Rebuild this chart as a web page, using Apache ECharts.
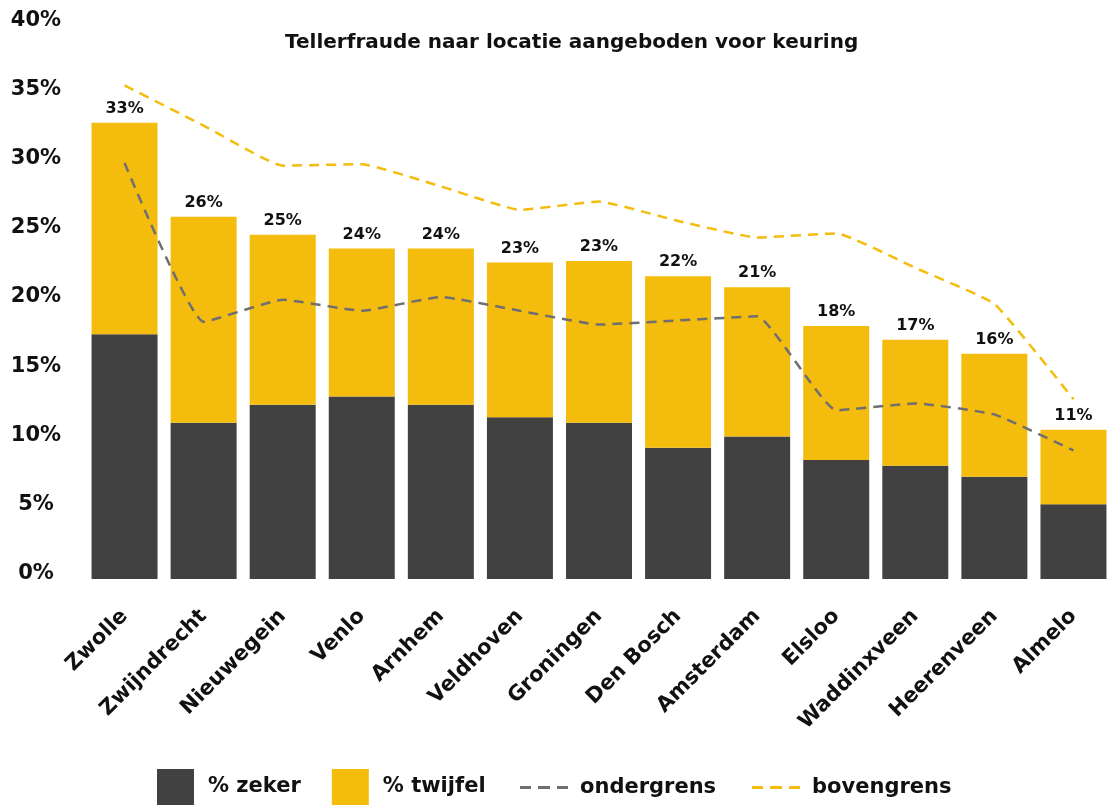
<!DOCTYPE html>
<html>
<head>
<meta charset="utf-8">
<script src="https://cdn.jsdelivr.net/npm/echarts@6/dist/echarts.min.js"></script>
<style>
  html, body { margin: 0; padding: 0; background: #ffffff; }
  #chart { width: 1113px; height: 805px; }
</style>
</head>
<body>
<div id="chart"></div>
<script>
// Locations, in descending order of total share
const locaties = ['Zwolle', 'Zwijndrecht', 'Nieuwegein', 'Venlo', 'Arnhem', 'Veldhoven',
  'Groningen', 'Den Bosch', 'Amsterdam', 'Elsloo', 'Waddinxveen', 'Heerenveen', 'Almelo'];

// Share with certain meter fraud (%)
const zeker = [17.7, 11.3, 12.6, 13.2, 12.6, 11.7, 11.3, 9.5, 10.3, 8.6, 8.2, 7.4, 5.4];

// Share with doubtful cases (%), stacked on top of zeker
const twijfel = [15.3, 14.9, 12.3, 10.7, 11.3, 11.2, 11.7, 12.4, 10.8, 9.7, 9.1, 8.9, 5.4];

// Lower and upper bound estimates (%)
const ondergrens = [30.1, 18.6, 20.2, 19.4, 20.4, 19.4, 18.4, 18.7, 19.0, 12.2, 12.7, 11.9, 9.3];
const bovengrens = [35.7, 32.8, 29.9, 30.0, 28.4, 26.7, 27.3, 25.9, 24.7, 25.0, 22.5, 19.9, 13.0];

// Y axis ticks
const yTicks = [0, 5, 10, 15, 20, 25, 30, 35, 40];

const DARK = '#414142';
const YELLOW = '#F4BC0D';
const GREY = '#6F6F71';
const FONT = 'DejaVu Sans';

// Three short dashes, used as legend icon for the bound lines
const DASH_ICON = 'path://M0,0h11v3h-11zM18,0h12v3h-12zM37,0h11v3h-11z';

const legendText = { fontFamily: FONT, fontWeight: 'bold', fontSize: 21, color: '#111111' };

const chart = echarts.init(document.getElementById('chart'), null, { renderer: 'canvas' });

chart.setOption({
  backgroundColor: '#ffffff',
  animation: false,
  textStyle: { fontFamily: FONT },
  title: {
    text: 'Tellerfraude naar locatie aangeboden voor keuring',
    left: 280,
    top: 28,
    textStyle: { fontFamily: FONT, fontWeight: 'bold', fontSize: 20, color: '#111111' }
  },
  legend: [
    {
      left: 157,
      top: 769,
      padding: 0,
      itemWidth: 37,
      itemHeight: 36,
      itemGap: 31,
      textStyle: Object.assign({ padding: [0, 0, 0, 9] }, legendText),
      data: [
        { name: '% zeker', icon: 'rect' },
        { name: '% twijfel', icon: 'rect' }
      ]
    },
    {
      left: 520,
      top: 777,
      padding: 0,
      itemWidth: 48,
      itemHeight: 3,
      itemGap: 36,
      textStyle: Object.assign({ padding: [0, 0, 0, 7] }, legendText),
      data: [
        { name: 'ondergrens', icon: DASH_ICON, itemStyle: { color: GREY } },
        { name: 'bovengrens', icon: DASH_ICON, itemStyle: { color: YELLOW } }
      ]
    }
  ],
  grid: { left: 85, right: -3, top: 26, bottom: 226, containLabel: false },
  xAxis: {
    type: 'category',
    data: locaties,
    axisLine: { show: false },
    axisTick: { show: false },
    axisLabel: {
      rotate: 45,
      margin: 34,
      interval: 0,
      fontFamily: FONT,
      fontWeight: 'bold',
      fontSize: 21,
      color: '#111111'
    }
  },
  yAxis: {
    type: 'value',
    min: 0,
    max: 40,
    interval: 5,
    splitLine: { show: false },
    axisLine: { show: false },
    axisTick: { show: false },
    axisLabel: {
      formatter: v => yTicks.includes(v) ? v + '%' : '',
      align: 'center',
      verticalAlign: 'bottom',
      margin: 49,
      padding: [0, 0, -5, 0],
      fontFamily: FONT,
      fontWeight: 'bold',
      fontSize: 21,
      color: '#111111'
    }
  },
  series: [
    {
      name: '% zeker',
      type: 'bar',
      stack: 'totaal',
      barWidth: 66,
      data: zeker,
      itemStyle: { color: DARK }
    },
    {
      name: '% twijfel',
      type: 'bar',
      stack: 'totaal',
      barWidth: 66,
      data: twijfel,
      itemStyle: { color: YELLOW },
      label: {
        show: true,
        position: 'top',
        distance: 6,
        formatter: p => Math.round(zeker[p.dataIndex] + twijfel[p.dataIndex]) + '%',
        fontFamily: FONT,
        fontWeight: 'bold',
        fontSize: 16,
        color: '#111111'
      }
    },
    {
      name: 'ondergrens',
      type: 'line',
      data: ondergrens,
      symbol: 'none',
      smooth: 0.12,
      z: 5,
      itemStyle: { color: GREY },
      lineStyle: { color: GREY, width: 2.5, type: [10, 7] }
    },
    {
      name: 'bovengrens',
      type: 'line',
      data: bovengrens,
      symbol: 'none',
      smooth: 0.12,
      z: 5,
      itemStyle: { color: YELLOW },
      lineStyle: { color: YELLOW, width: 2.5, type: [10, 7] }
    }
  ]
});
</script>
</body>
</html>
